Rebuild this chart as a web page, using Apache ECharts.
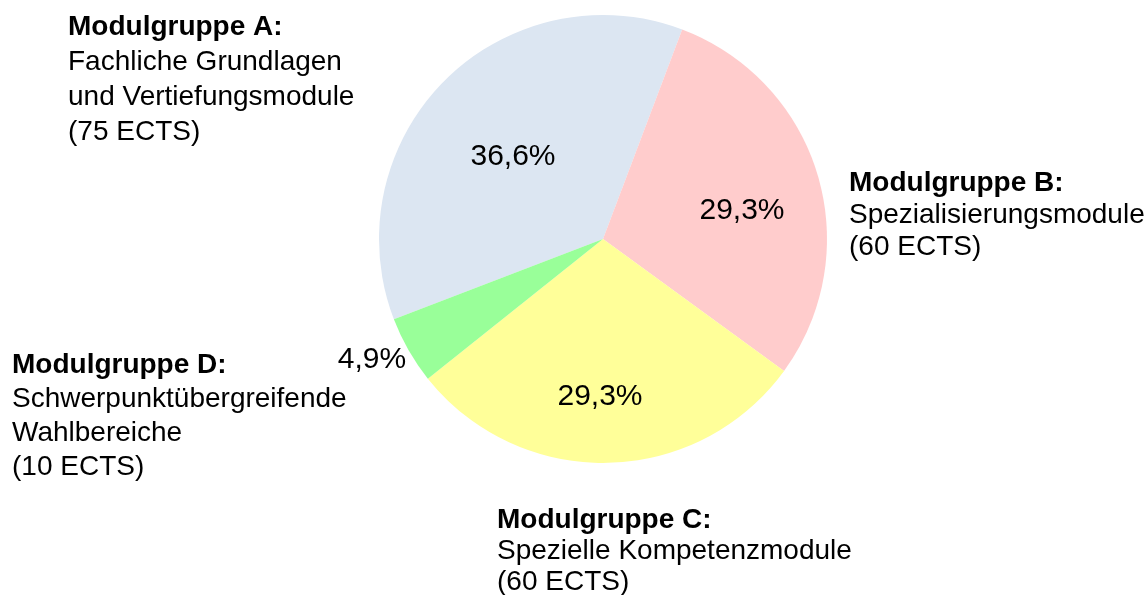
<!DOCTYPE html>
<html>
<head>
<meta charset="utf-8">
<script src="https://cdn.jsdelivr.net/npm/echarts@6/dist/echarts.min.js"></script>
<style>
html,body{margin:0;padding:0;background:#fff;}
#chart{width:1145px;height:595px;}
</style>
</head>
<body>
<div id="chart"></div>
<script>
var groupNames = ['Modulgruppe A:', 'Modulgruppe B:', 'Modulgruppe C:', 'Modulgruppe D:'];
var descriptions = [
  ['Fachliche Grundlagen', 'und Vertiefungsmodule'],
  ['Spezialisierungsmodule'],
  ['Spezielle Kompetenzmodule'],
  ['Schwerpunktübergreifende', 'Wahlbereiche']
];
var ectsValues = [75, 60, 60, 10];
var sliceColors = ['#dce6f2', '#ffcccc', '#ffff99', '#99ff99'];

var total = ectsValues.reduce(function (a, b) { return a + b; }, 0);
function pct(v) { return (v / total * 100).toFixed(1).replace('.', ',') + '%'; }

var FONT = '"Liberation Sans", Arial, sans-serif';
var FS = 28;
var PFS = 30;

// label placements (layout only)
var pctPos = [[513, 157], [742, 211], [600, 397], [372, 360]];
var outerPos = [[68, 13], [849, 169], [497, 506], [12, 351]];
var outerLH = [35, 32, 31, 34];

var chart = echarts.init(document.getElementById('chart'), null, {renderer: 'canvas'});

var graphics = groupNames.map(function (name, i) {
  var LH = outerLH[i];
  var lines = ['{b|' + name + '}'];
  descriptions[i].forEach(function (d) { lines.push('{n|' + d + '}'); });
  lines.push('{n|(' + ectsValues[i] + ' ECTS)}');
  return {
    type: 'text',
    left: outerPos[i][0],
    top: outerPos[i][1],
    style: {
      text: lines.join('\n'),
      fill: '#000',
      font: FS + 'px ' + FONT,
      rich: {
        b: {fontFamily: FONT, fontSize: FS, fontWeight: 'bold', lineHeight: LH, fill: '#000', color: '#000'},
        n: {fontFamily: FONT, fontSize: FS, lineHeight: LH, fill: '#000', color: '#000'}
      }
    }
  };
});

chart.setOption({
  backgroundColor: '#fff',
  animation: false,
  graphic: graphics,
  series: [{
    type: 'pie',
    center: [603, 239],
    radius: 224,
    startAngle: 201,
    clockwise: true,
    avoidLabelOverlap: false,
    data: ectsValues.map(function (v, i) {
      return {value: v, name: groupNames[i], itemStyle: {color: sliceColors[i]}};
    }),
    itemStyle: {borderWidth: 0},
    label: {
      show: true,
      position: 'inside',
      formatter: function (p) { return pct(p.value); },
      fontFamily: FONT,
      fontSize: PFS,
      color: '#000'
    },
    labelLine: {show: false},
    labelLayout: function (p) {
      return {x: pctPos[p.dataIndex][0], y: pctPos[p.dataIndex][1], align: 'center', verticalAlign: 'middle'};
    },
    emphasis: {disabled: true}
  }]
});
</script>
</body>
</html>
